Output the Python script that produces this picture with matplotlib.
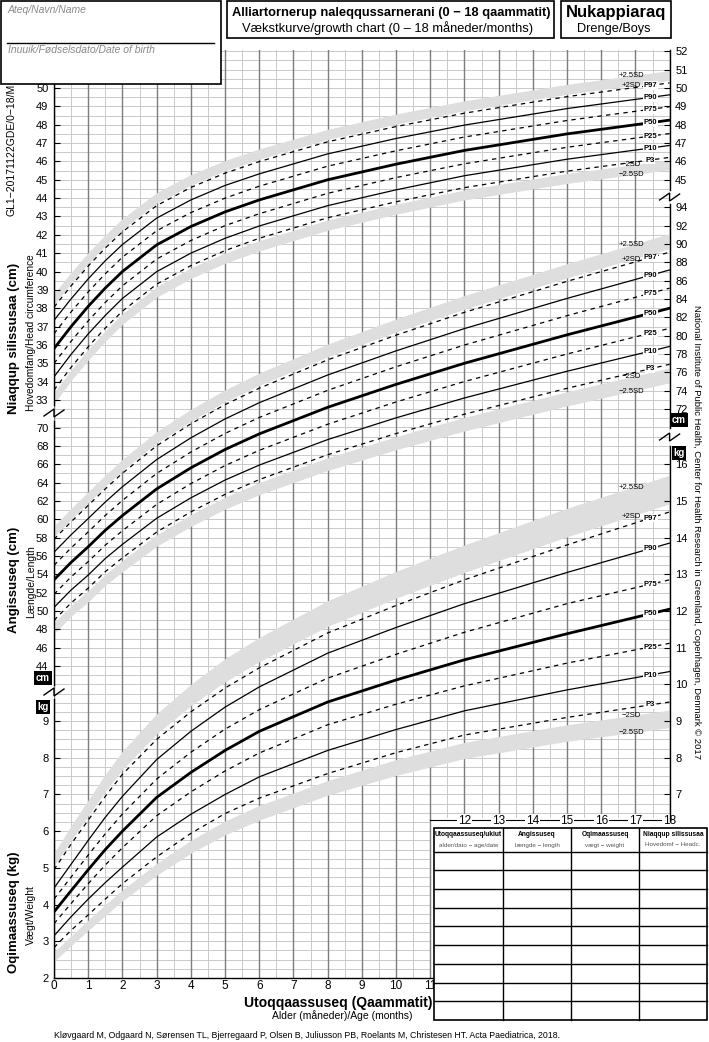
"""
Vaekstkurve / growth chart 0-18 months, boys (Greenland reference)
"""
import numpy as np
import matplotlib
matplotlib.use("Agg")
import matplotlib.pyplot as plt
from matplotlib.patches import Rectangle

plt.rcParams['font.family'] = ['Liberation Sans', 'DejaVu Sans']

AGE = [0, 0.5, 1, 1.5, 2, 3, 4, 5, 6, 8, 10, 12, 15, 18]

# head circumference (cm)
HC_P3 = [33.54, 34.78, 35.90, 36.92, 37.84, 39.31, 40.32, 41.14, 41.81, 42.93, 43.80, 44.57, 45.47, 46.22]
HC_P10 = [34.26, 35.49, 36.60, 37.61, 38.53, 39.99, 41.00, 41.81, 42.48, 43.59, 44.45, 45.22, 46.12, 46.87]
HC_P25 = [34.99, 36.20, 37.31, 38.32, 39.22, 40.68, 41.69, 42.50, 43.15, 44.26, 45.12, 45.87, 46.77, 47.52]
HC_P50 = [35.80, 37.00, 38.10, 39.10, 40.00, 41.45, 42.45, 43.25, 43.90, 45.00, 45.85, 46.60, 47.50, 48.25]
HC_P75 = [36.61, 37.80, 38.89, 39.88, 40.78, 42.22, 43.21, 44.00, 44.65, 45.74, 46.58, 47.33, 48.23, 48.98]
HC_P90 = [37.34, 38.51, 39.60, 40.59, 41.47, 42.91, 43.90, 44.69, 45.32, 46.41, 47.25, 47.98, 48.88, 49.63]
HC_P97 = [38.06, 39.22, 40.30, 41.28, 42.16, 43.59, 44.58, 45.36, 45.99, 47.07, 47.90, 48.63, 49.53, 50.28]
HC_M25SD = [32.80, 34.05, 35.17, 36.20, 37.12, 38.60, 39.62, 40.45, 41.12, 42.25, 43.12, 43.90, 44.80, 45.55]
HC_M2SD = [33.40, 34.64, 35.76, 36.78, 37.70, 39.17, 40.19, 41.01, 41.68, 42.80, 43.67, 44.44, 45.34, 46.09]
HC_P2SD = [38.20, 39.36, 40.44, 41.42, 42.30, 43.73, 44.71, 45.49, 46.12, 47.20, 48.03, 48.76, 49.66, 50.41]
HC_P25SD = [38.80, 39.95, 41.03, 42.00, 42.88, 44.30, 45.28, 46.05, 46.68, 47.75, 48.58, 49.30, 50.20, 50.95]

# length (cm)
LEN_P3 = [48.98, 50.88, 52.49, 54.29, 55.79, 58.60, 60.80, 62.71, 64.32, 67.03, 69.34, 71.45, 74.27, 76.89]
LEN_P10 = [50.39, 52.29, 53.92, 55.72, 57.26, 60.10, 62.33, 64.27, 65.90, 68.68, 71.05, 73.22, 76.13, 78.83]
LEN_P25 = [51.82, 53.72, 55.38, 57.18, 58.75, 61.61, 63.88, 65.85, 67.51, 70.35, 72.78, 75.01, 78.01, 80.81]
LEN_P50 = [53.40, 55.30, 57.00, 58.80, 60.40, 63.30, 65.60, 67.60, 69.30, 72.20, 74.70, 77.00, 80.10, 83.00]
LEN_P75 = [54.98, 56.88, 58.62, 60.42, 62.05, 64.99, 67.32, 69.35, 71.09, 74.05, 76.62, 78.99, 82.19, 85.19]
LEN_P90 = [56.41, 58.31, 60.08, 61.88, 63.54, 66.50, 68.87, 70.93, 72.70, 75.72, 78.35, 80.78, 84.07, 87.17]
LEN_P97 = [57.82, 59.72, 61.51, 63.31, 65.01, 68.00, 70.40, 72.49, 74.28, 77.37, 80.06, 82.55, 85.93, 89.11]
LEN_M25SD = [47.52, 49.42, 51.00, 52.80, 54.27, 57.05, 59.22, 61.10, 62.67, 65.32, 67.57, 69.62, 72.35, 74.87]
LEN_M2SD = [48.70, 50.60, 52.20, 54.00, 55.50, 58.30, 60.50, 62.40, 64.00, 66.70, 69.00, 71.10, 73.90, 76.50]
LEN_P2SD = [58.10, 60.00, 61.80, 63.60, 65.30, 68.30, 70.70, 72.80, 74.60, 77.70, 80.40, 82.90, 86.30, 89.50]
LEN_P25SD = [59.28, 61.18, 63.00, 64.80, 66.53, 69.55, 71.98, 74.10, 75.93, 79.08, 81.83, 84.38, 87.85, 91.13]

# weight (kg)
WT_P3 = [2.83, 3.30, 3.72, 4.15, 4.57, 5.30, 5.94, 6.48, 6.90, 7.57, 8.14, 8.62, 9.10, 9.52]
WT_P10 = [3.15, 3.67, 4.15, 4.60, 5.02, 5.84, 6.46, 7.00, 7.48, 8.20, 8.77, 9.28, 9.85, 10.35]
WT_P25 = [3.48, 4.03, 4.57, 5.08, 5.55, 6.42, 7.07, 7.64, 8.13, 8.90, 9.46, 9.96, 10.58, 11.12]
WT_P50 = [3.80, 4.38, 4.95, 5.50, 6.00, 6.92, 7.60, 8.20, 8.72, 9.52, 10.12, 10.67, 11.38, 12.05]
WT_P75 = [4.15, 4.75, 5.35, 5.93, 6.47, 7.42, 8.15, 8.78, 9.31, 10.17, 10.82, 11.42, 12.20, 12.85]
WT_P90 = [4.45, 5.10, 5.75, 6.38, 6.95, 7.95, 8.72, 9.38, 9.93, 10.85, 11.55, 12.20, 13.05, 13.85]
WT_P97 = [4.95, 5.65, 6.30, 6.95, 7.55, 8.50, 9.25, 9.90, 10.45, 11.40, 12.15, 12.85, 13.80, 14.70]
WT_M25SD = [2.45, 2.88, 3.30, 3.70, 4.10, 4.80, 5.40, 5.90, 6.30, 6.98, 7.52, 7.98, 8.45, 8.82]
WT_M2SD = [2.70, 3.15, 3.58, 4.00, 4.40, 5.12, 5.75, 6.28, 6.70, 7.38, 7.95, 8.42, 8.90, 9.30]
WT_P2SD = [5.05, 5.75, 6.42, 7.08, 7.68, 8.65, 9.42, 10.07, 10.62, 11.58, 12.35, 13.05, 14.02, 14.92]
WT_P25SD = [5.40, 6.15, 6.85, 7.55, 8.18, 9.20, 10.00, 10.70, 11.28, 12.28, 13.08, 13.80, 14.80, 15.70]

# axis ticks
HC_LEFT = list(range(33, 51))
HC_RIGHT = list(range(45, 53))
LEN_LEFT = list(range(44, 71, 2))
LEN_RIGHT = list(range(72, 95, 2))
WT_LEFT = list(range(2, 10))
WT_RIGHT = list(range(7, 17))
MONTHS_LOW = list(range(0, 12))
MONTHS_HIGH = list(range(12, 19))

TABLE_HEAD = ['Utoqqaassuseq/ukiut', 'Angissuseq', 'Oqimaassuseq', 'Niaqqup silissusaa']
TABLE_SUB = ['alder/dato \u2212 age/date', 'l\u00e6ngde \u2212 length', 'v\u00e6gt \u2212 weight', 'Hovedomf \u2212 Headc.']

# ---------------------------------------------------------------- layout (px)
W, H = 709, 1042
X0, X1 = 54, 669.6          # month 0 / month 18
Y_TOP, Y_BOT = 50, 978      # top of grid / weight 2 kg
STEP = 9.175                # px per grid row
NROWS = (Y_BOT - Y_TOP) / STEP
Y_CUT = 817                 # grid bottom for months > 11 (table below)

fig = plt.figure(figsize=(W / 100, H / 100), dpi=100)
rect = [X0 / W, 1 - Y_BOT / H, (X1 - X0) / W, (Y_BOT - Y_TOP) / H]

BAND = '#dedede'
FS_TICK = 8


def measure_axes(lo, per_row, lticks, rticks):
    ax = fig.add_axes(rect, frameon=False)
    ax.set_xlim(0, 18)
    ax.set_ylim(lo, lo + NROWS * per_row)
    ax.set_xticks([])
    ax.set_yticks(lticks)
    ax.tick_params(axis='y', direction='in', length=4, width=0.8,
                   labelsize=FS_TICK, pad=4)
    axr = ax.twinx()
    axr.set_frame_on(False)
    axr.set_ylim(ax.get_ylim())
    axr.set_yticks(rticks)
    axr.tick_params(axis='y', direction='in', length=4, width=0.8,
                    labelsize=FS_TICK, pad=4)
    return ax


def draw_curves(ax, p3, p10, p25, p50, p75, p90, p97, m25, m2, p2, p25sd):
    ax.fill_between(AGE, p2, p25sd, color=BAND, lw=0, zorder=1)
    ax.fill_between(AGE, m25, m2, color=BAND, lw=0, zorder=1)
    dash = (0, (3.5, 3.5))
    curves = [(p3, dash, 0.9, 'P3'), (p10, '-', 0.9, 'P10'), (p25, dash, 0.9, 'P25'),
              (p50, '-', 2.0, 'P50'), (p75, dash, 0.9, 'P75'), (p90, '-', 0.9, 'P90'),
              (p97, dash, 0.9, 'P97')]
    for vals, ls, lw, name in curves:
        ax.plot(AGE, vals, color='black', ls=ls, lw=lw, zorder=3)
        ax.text(17.43, np.interp(17.43, AGE, vals), name, fontsize=5.5,
                fontweight='bold', ha='center', va='center', zorder=4,
                bbox=dict(fc='white', ec='none', pad=0.5))
    for vals, name in [(p25sd, '+2.5SD'), (p2, '+2SD'), (m2, '\u22122SD'), (m25, '\u22122.5SD')]:
        ax.text(16.87, np.interp(16.87, AGE, vals), name, fontsize=5.5,
                ha='center', va='center', zorder=4)


# weight axes carries the grid and the month labels
ax_w = measure_axes(2, 0.25, WT_LEFT, WT_RIGHT)
top = ax_w.get_ylim()[1]
cut = 2 + (Y_BOT - Y_CUT) / STEP * 0.25
for r in np.arange(2, top, 0.25):
    ax_w.plot([0, 18 if r >= cut - 1e-6 else 11], [r, r], color='#c9c9c9', lw=0.7, zorder=0)
for m in np.arange(0, 18.01, 0.5):
    major = m % 1 == 0
    ax_w.plot([m, m], [2 if m <= 11 else cut, top], color='#7c7c7c' if major else '#c9c9c9',
              lw=1.0 if major else 0.7, zorder=0)
ax_w.set_xticks(MONTHS_LOW)
ax_w.tick_params(axis='x', length=0, labelsize=8.5, pad=1.5)
lab_y = 2 + (Y_BOT - 820.5) / STEP * 0.25
ax_w.plot([11, 18], [lab_y, lab_y], color='black', lw=0.8, zorder=0)
for m in MONTHS_HIGH:
    ax_w.text(m, lab_y, str(m), fontsize=8.5, ha='center', va='center', zorder=5,
              bbox=dict(fc='white', ec='none', pad=0.6))

draw_curves(ax_w, WT_P3, WT_P10, WT_P25, WT_P50, WT_P75, WT_P90, WT_P97,
            WT_M25SD, WT_M2SD, WT_P2SD, WT_P25SD)

ax_l = measure_axes(10, 1.0, LEN_LEFT, LEN_RIGHT)
draw_curves(ax_l, LEN_P3, LEN_P10, LEN_P25, LEN_P50, LEN_P75, LEN_P90, LEN_P97,
            LEN_M25SD, LEN_M2SD, LEN_P2SD, LEN_P25SD)

ax_h = measure_axes(1.5, 0.5, HC_LEFT, HC_RIGHT)
draw_curves(ax_h, HC_P3, HC_P10, HC_P25, HC_P50, HC_P75, HC_P90, HC_P97,
            HC_M25SD, HC_M2SD, HC_P2SD, HC_P25SD)

# ---------------------------------------------------------------- overlay in pixels
ov = fig.add_axes([0, 0, 1, 1])
ov.set_xlim(0, W)
ov.set_ylim(H, 0)
ov.axis('off')

# axis lines with breaks
for x, segs in [(X0, [(Y_TOP, 405), (421, 685), (699, Y_BOT)]),
                (X1, [(Y_TOP, 190), (204, 428), (446, 821)])]:
    for a, b in segs:
        ov.plot([x, x], [a, b], color='black', lw=1.0)
ov.plot([X0, 434], [Y_BOT, Y_BOT], color='black', lw=1.0)


def zigzag(xc, yc):
    ov.plot([xc - 10, xc, xc, xc + 10], [yc + 3, yc - 4, yc + 4, yc - 3],
            color='black', lw=1.0, solid_joinstyle='miter')


zigzag(X0, 413)
zigzag(X0, 692)
zigzag(X1, 197)
zigzag(X1, 437)


def unit_box(x, y, s):
    ov.text(x, y, s, color='white', fontsize=7, fontweight='bold', ha='center', va='center',
            bbox=dict(fc='black', ec='none', pad=1.2))


unit_box(43, 678, 'cm')
unit_box(43, 707, 'kg')
unit_box(679, 420, 'cm')
unit_box(679, 453, 'kg')

# header boxes
ov.add_patch(Rectangle((1, 1), 220, 83, fc='white', ec='black', lw=1.2, zorder=5))
ov.plot([7, 214], [43, 43], color='black', lw=1.0, zorder=6)
ov.text(8, 10, 'Ateq/Navn/Name', fontsize=7.5, style='italic', color='#8a8a8a',
        va='center', zorder=6)
ov.text(8, 50, 'Inuuik/F\u00f8dselsdato/Date of birth', fontsize=7.5, style='italic',
        color='#8a8a8a', va='center', zorder=6)

ov.add_patch(Rectangle((227, 1), 327, 37, fc='white', ec='black', lw=1.2, zorder=5))
ov.text(391, 13, 'Alliartornerup naleqqussarnerani (0 \u2212 18 qaammatit)', fontsize=9.3,
        fontweight='bold', ha='center', va='center', zorder=6)
ov.text(388, 28, 'V\u00e6kstkurve/growth chart (0 \u2013 18 m\u00e5neder/months)', fontsize=9.3,
        ha='center', va='center', zorder=6)

ov.add_patch(Rectangle((561, 1), 110, 37, fc='white', ec='black', lw=1.2, zorder=5))
ov.text(616, 13, 'Nukappiaraq', fontsize=12, fontweight='bold', ha='center', va='center', zorder=6)
ov.text(614, 29, 'Drenge/Boys', fontsize=9.2, ha='center', va='center', zorder=6)

# side titles
ov.text(12, 150, 'GL1\u221220171122GDE/0\u221218/M', fontsize=7.5, rotation=90,
        ha='center', va='center')
ov.text(14, 338, 'Niaqqup silissusaa (cm)', fontsize=9.5, fontweight='bold', rotation=90,
        ha='center', va='center')
ov.text(31, 333, 'Hovedomfang/Head circumference', fontsize=7.3, rotation=90,
        ha='center', va='center')
ov.text(14, 580, 'Angissuseq (cm)', fontsize=9.5, fontweight='bold', rotation=90,
        ha='center', va='center')
ov.text(31, 582, 'L\u00e6ngde/Length', fontsize=7.5, rotation=90, ha='center', va='center')
ov.text(14, 912, 'Oqimaassuseq (kg)', fontsize=9.5, fontweight='bold', rotation=90,
        ha='center', va='center')
ov.text(31, 915, 'V\u00e6gt/Weight', fontsize=7.5, rotation=90, ha='center', va='center')

ov.text(697, 532, 'National Institute of Public Health, Center for Health Research in Greenland, '
        'Copenhagen, Denmark \u00a9 2017', fontsize=6.8, rotation=-90, ha='center', va='center')

ov.text(432, 1003, 'Utoqqaassuseq (Qaammatit)', fontsize=10, fontweight='bold',
        ha='right', va='center')
ov.text(342, 1016, 'Alder (m\u00e5neder)/Age (months)', fontsize=7.5, ha='center', va='center')
ov.text(54, 1035, 'Kl\u00f8vgaard M, Odgaard N, S\u00f8rensen TL, Bjerregaard P, Olsen B, '
        'Juliusson PB, Roelants M, Christesen HT. Acta Paediatrica, 2018.',
        fontsize=6.3, ha='left', va='center')

# record table
TAB_X = [434, 503, 571, 639, 707]
TAB_Y0, TAB_HEAD, TAB_Y1 = 828, 851.5, 1020
ov.add_patch(Rectangle((TAB_X[0], TAB_Y0), TAB_X[-1] - TAB_X[0], TAB_Y1 - TAB_Y0,
                       fc='white', ec='black', lw=1.2, zorder=5))
for x in TAB_X[1:-1]:
    ov.plot([x, x], [TAB_Y0, TAB_Y1], color='black', lw=1.0, zorder=6)
for y in np.linspace(TAB_HEAD, TAB_Y1, 10)[:-1]:
    ov.plot([TAB_X[0], TAB_X[-1]], [y, y], color='black', lw=1.0, zorder=6)
for i, (head, sub) in enumerate(zip(TABLE_HEAD, TABLE_SUB)):
    xc = (TAB_X[i] + TAB_X[i + 1]) / 2
    ov.text(xc, 834, head, fontsize=4.8, fontweight='bold', ha='center', va='center', zorder=6)
    ov.text(xc, 845, sub, fontsize=4.5, color='#555555', ha='center', va='center', zorder=6)

fig.savefig('out.png', dpi=100)
